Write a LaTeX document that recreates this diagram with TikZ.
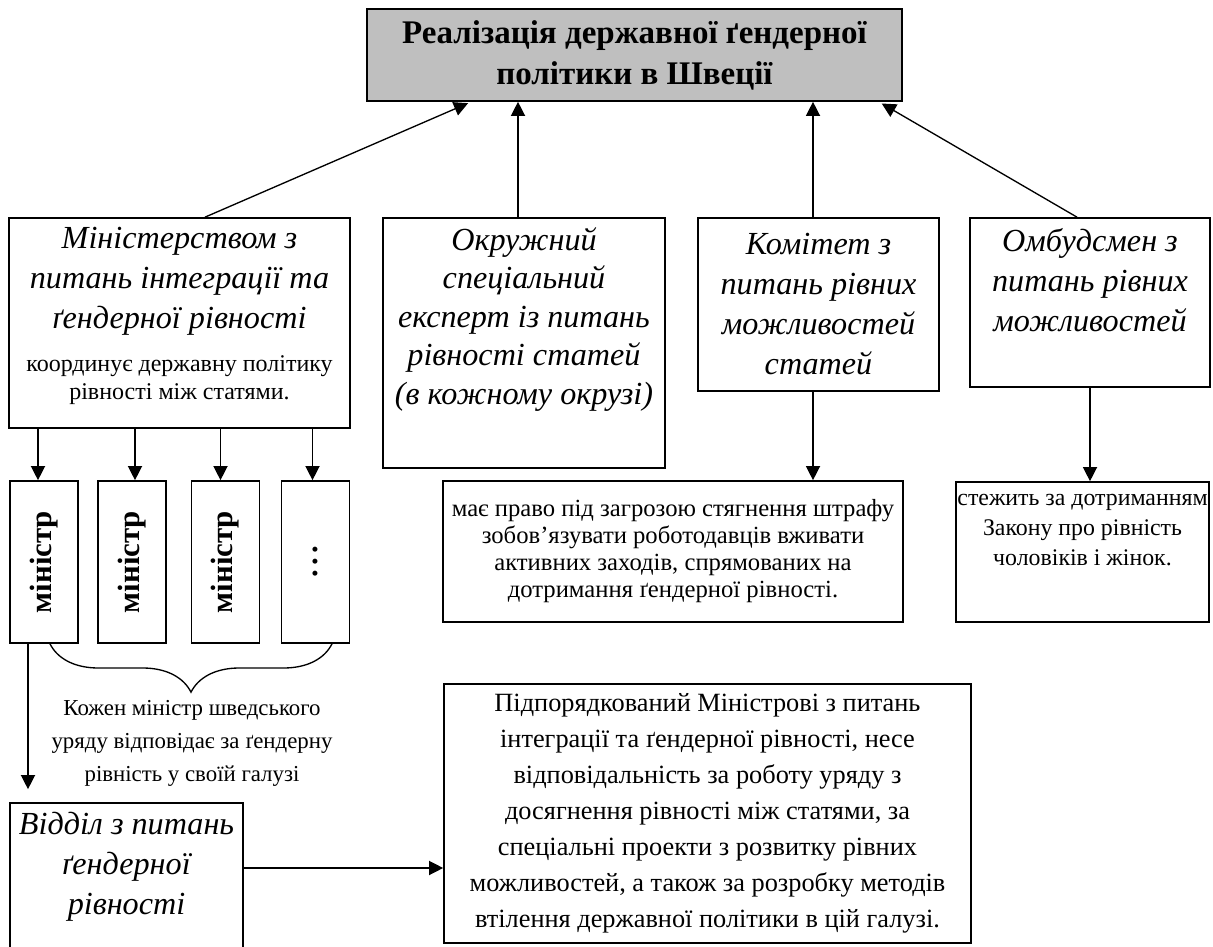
\documentclass[tikz,border=0pt]{standalone}
\usepackage{fontspec}
\setmainfont{Liberation Serif}
\usetikzlibrary{arrows.meta,positioning,decorations.pathreplacing}

\begin{document}
\begin{tikzpicture}[x=0.6pt,y=-0.6pt,
    box/.style={draw,line width=1pt,inner sep=0pt},
    ital/.style={font=\fontsize{19.3}{24}\selectfont\itshape,align=center,inner sep=0pt},
    txt/.style={font=\fontsize{14.4}{16.8}\selectfont,align=center,inner sep=0pt},
    mbox/.style={box,minimum width=40.8pt,minimum height=97.2pt,font=\fontsize{18.5}{20}\selectfont\bfseries},
    arr/.style={line width=0.8pt,-{Triangle[length=8.5pt,width=8.5pt]}}]
\useasboundingbox (0,0) rectangle (1213,947);
\clip (0,0) rectangle (1213,947);

% top
\node[box,fill=gray!50,minimum width=321pt,minimum height=55.2pt,
  font=\fontsize{19.8}{24.6}\selectfont\bfseries,align=center] (title) at (634.5,55)
  {Реалізація державної ґендерної\\політики в Швеції};

% four bodies
\node[box,minimum width=204.6pt,minimum height=126pt] (min) at (179.5,323) {};
\node[ital,below=5.9pt of min.north] (minT) {Міністерством з\\питань інтеграції та\\ґендерної рівності};
\node[txt,below=11.5pt of minT] (minS) {координує державну політику\\рівності між статями.};

\node[box,minimum width=169.2pt,minimum height=150pt] (okr) at (524,343) {};
\node[ital,font=\fontsize{19.3}{23.1}\selectfont\itshape,below=5.9pt of okr.north] (okrT)
  {Окружний\\спеціальний\\експерт із питань\\рівності статей\\(в кожному окрузі)};

\node[box,ital,minimum width=144.6pt,minimum height=103.8pt] (kom) at (818.5,304.5)
  {Комітет з\\питань рівних\\можливостей\\статей};

\node[box,minimum width=144pt,minimum height=101.4pt] (omb) at (1090,302.5) {};
\node[ital,below=6.5pt of omb.north] (ombT) {Омбудсмен з\\питань рівних\\можливостей};

% what they do
\node[box,txt,font=\fontsize{14.8}{16.2}\selectfont,minimum width=276pt,minimum height=84.6pt] (kom2) at (673,551.5)
  {має право під загрозою стягнення штрафу\\зобов’язувати роботодавців вживати\\активних заходів, спрямованих на\\дотримання ґендерної рівності.};

\node[box,minimum width=151.8pt,minimum height=84pt] (omb2) at (1082.5,552) {};
\node[txt,font=\fontsize{14.3}{18}\selectfont,below=7.5pt of omb2.north] (omb2T)
  {стежить за дотриманням\\Закону про рівність\\чоловіків і жінок.};

% ministers
\node[mbox] (m1) at (44,562) {\rotatebox{90}{міністр}};
\node[mbox] (m2) at (132,562) {\rotatebox{90}{міністр}};
\node[mbox] (m3) at (225.5,562) {\rotatebox{90}{міністр}};
\node[mbox] (m4) at (315.5,562) {\rotatebox{90}{.\kern2.5pt.\kern2.5pt.}};

\draw[decorate,decoration={brace,mirror,amplitude=29pt},line width=0.8pt]
  ([xshift=3.6pt]m1.south) -- ([xshift=9.9pt]m4.south);
\node[txt,font=\fontsize{13.7}{19.8}\selectfont] (cap) at (192,743)
  {Кожен міністр шведського\\уряду відповідає за ґендерну\\рівність у своїй галузі};

% department
\node[box,minimum width=139.8pt,minimum height=94.2pt] (vid) at (126.5,881.5) {};
\node[ital,below=5.9pt of vid.north] (vidT) {Відділ з питань\\ґендерної\\рівності};

\node[box,txt,font=\fontsize{15.8}{21.6}\selectfont,minimum width=316.2pt,minimum height=155.4pt] (big) at (707.5,813.5)
  {Підпорядкований Міністрові з питань\\інтеграції та ґендерної рівності, несе\\відповідальність за роботу уряду з\\досягнення рівності між статями, за\\спеціальні проекти з розвитку рівних\\можливостей, а також за розробку методів\\втілення державної політики в цій галузі.};

% arrows
\draw[arr,shorten >=2pt] ([xshift=15.3pt]min.north) -- ([xshift=63pt]title.south west);
\draw[arr] ([xshift=-3.6pt]okr.north) -- ([xshift=-3.6pt]okr.north |- title.south);
\draw[arr] ([xshift=-3.3pt]kom.north) -- ([xshift=-3.3pt]kom.north |- title.south);
\draw[arr,shorten >=2pt] ([xshift=-7.8pt]omb.north) -- ([xshift=-14.4pt]title.south east);

\draw[arr] ([xshift=-3.6pt]m1.north |- min.south) -- ([xshift=-3.6pt]m1.north);
\draw[arr] ([xshift=1.8pt]m2.north |- min.south) -- ([xshift=1.8pt]m2.north);
\draw[arr] ([xshift=-3pt]m3.north |- min.south) -- ([xshift=-3pt]m3.north);
\draw[arr] ([xshift=-1.8pt]m4.north |- min.south) -- ([xshift=-1.8pt]m4.north);

\draw[arr] ([xshift=-3.3pt]kom.south) -- ([xshift=-3.3pt]kom.south |- kom2.north);
\draw[arr] (omb.south) -- (omb.south |- omb2.north);

\draw[arr,shorten >=7.8pt] ([xshift=-9.6pt]m1.south) -- ([xshift=-9.6pt]m1.south |- vid.north);
\draw[arr] ([yshift=8.1pt]vid.east) -- ([yshift=8.1pt]vid.east -| big.west);
\end{tikzpicture}
\end{document}
